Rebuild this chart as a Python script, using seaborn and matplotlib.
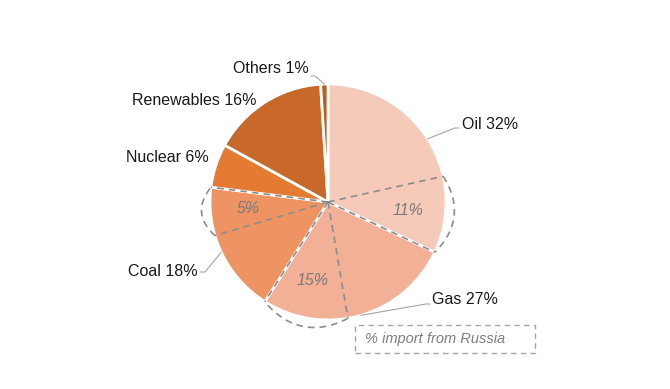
import numpy as np
import matplotlib
matplotlib.use('Agg')
import matplotlib.pyplot as plt
from matplotlib.patches import Rectangle
import seaborn as sns

fuels = ['Oil', 'Gas', 'Coal', 'Nuclear', 'Renewables', 'Others']
shares = [32, 27, 18, 6, 16, 1]
colors = ['#F6CAB8', '#F2B196', '#EE9463', '#E57A33', '#C8692A', '#B65F27']

# share imported from Russia (label) and the arc it covers on the pie (% of circle)
russia_fuels = ['Oil', 'Gas', 'Coal']
russia_labels = ['11%', '15%', '5%']
russia_span = [10.5, 11.7, 6.6]

sns.set_style('white')
plt.rcParams['font.family'] = ['Liberation Sans', 'DejaVu Sans']

fig = plt.figure(figsize=(6.7, 3.89), dpi=100)
ax = fig.add_axes([0, 0, 1, 1])
cx, cy, R = 328, 187, 118

wedges, _ = ax.pie(shares, colors=colors, startangle=90, counterclock=False,
                   center=(cx, cy), radius=R,
                   wedgeprops=dict(edgecolor='white', linewidth=2))


def edge_pt(ang, r=R):
    a = np.deg2rad(ang)
    return cx + r * np.cos(a), cy + r * np.sin(a)


dash_kw = dict(color='#8C8C8C', lw=1.2, ls=(0, (4, 3)), zorder=5)

# dashed outline of the Russian part, at the clockwise end of each slice
for name, lab, span in zip(russia_fuels, russia_labels, russia_span):
    w = wedges[fuels.index(name)]
    a0 = w.theta1
    a1 = a0 + span * 3.6
    for a in (a0, a1):
        x, y = edge_pt(a)
        ax.plot([cx, x], [cy, y], **dash_kw)
    t = np.linspace(0, 1, 60)
    ang = np.deg2rad(a1 + t * (a0 - a1))
    rr = R * (1 + 0.075 * np.sin(np.pi * t))
    ax.plot(cx + rr * np.cos(ang), cy + rr * np.sin(ang), **dash_kw)
    mx, my = edge_pt((a0 + a1) / 2, R * 0.68)
    ax.text(mx, my, lab, ha='center', va='center', fontsize=11.5,
            style='italic', color='#7A7A7A', zorder=6)

# outer labels: (text x, text y, align, elbow, leader end) - layout only
label_pos = {
    'Oil': (462, 265, 'left', (455, 261), (459, 261)),
    'Gas': (432, 89, 'left', (426, 85), (430, 85)),
    'Coal': (198, 118, 'right', (205, 117), (200, 117)),
    'Nuclear': (209, 232, 'right', None, None),
    'Renewables': (256, 289, 'right', None, None),
    'Others': (309, 321, 'right', (315, 313), (311, 313)),
}

for i, (name, val) in enumerate(zip(fuels, shares)):
    tx, ty, ha, elbow, end = label_pos[name]
    ax.text(tx, ty, f'{name} {val}%', ha=ha, va='center', fontsize=11.5,
            color='#1A1A1A')
    if elbow is not None:
        w = wedges[i]
        sx, sy = edge_pt((w.theta1 + w.theta2) / 2)
        ax.plot([sx, elbow[0], end[0]], [sy, elbow[1], end[1]],
                color='#A6A6A6', lw=0.8)

# legend box
ax.add_patch(Rectangle((355, 36), 180, 28, fill=False, ec='#A6A6A6',
                       lw=1.0, ls=(0, (4, 3))))
ax.text(365, 50, '% import from Russia', ha='left', va='center',
        fontsize=10.5, style='italic', color='#7F7F7F')

ax.set_xlim(0, 670)
ax.set_ylim(0, 389)
ax.set_aspect('equal')
ax.axis('off')

fig.savefig('out.png', dpi=100)
